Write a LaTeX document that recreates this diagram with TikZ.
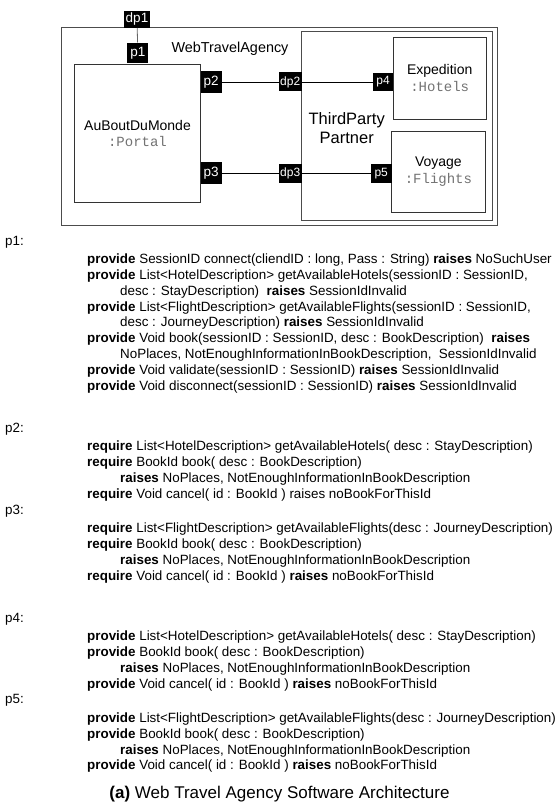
\documentclass[tikz,border=0pt]{standalone}
\usepackage{fontspec}
\setmainfont{Liberation Sans}
\setmonofont{Liberation Mono}
\usetikzlibrary{positioning}

\newcommand{\prov}{\textbf{provide}}
\newcommand{\reqr}{\textbf{require}}
\newcommand{\rais}{\textbf{raises}}
\newcommand{\itype}[1]{{\ttfamily\color{black!55}#1}}

\tikzset{
  comp/.style={draw=black!80,line width=0.9pt,fill=white,align=center,font=\fontsize{14}{16.5}\selectfont},
  port/.style={fill=black,text=white,inner sep=0pt,minimum width=21pt,minimum height=21pt,font=\fontsize{13.5}{13.5}\selectfont},
  dport/.style={port,minimum width=23pt,minimum height=19pt,font=\fontsize{12}{12}\selectfont},
  sig/.style={anchor=base west,inner sep=0pt,font=\fontsize{13.4}{15.9}\selectfont},
  wire/.style={draw=black,line width=0.8pt},
}

\begin{document}
\begin{tikzpicture}[x=1pt,y=-1pt]
\useasboundingbox (0,0) rectangle (559,810);
% composite and the partner sub-composite
\draw[draw=black!70,line width=0.9pt] (61.7,27.7) rectangle (497,225);
\node[font=\fontsize{14.4}{16}\selectfont] (wta) at (230,49) {WebTravelAgency};
\draw[draw=black!70,line width=0.7pt,double,double distance=2pt] (302.7,32.7) rectangle (491.3,219.3);
\node[font=\fontsize{16.5}{19}\selectfont,align=center] (tpp) at (346.7,128.3) {ThirdParty\\Partner};
% components
\node[comp,minimum width=126.4pt,minimum height=138.4pt] (portal) at (137.5,133.5) {AuBoutDuMonde\\\itype{:Portal}};
\node[comp,minimum width=92.7pt,minimum height=81.7pt] (hotels) at (439.7,78.2) {Expedition\\\itype{:Hotels}};
\node[comp,minimum width=93.3pt,minimum height=81pt] (flights) at (438.4,171.5) {Voyage\\\itype{:Flights}};
% ports
\node[port,minimum width=26pt,minimum height=16.7pt] (dp1) at (137,19.4) {dp1};
\node[port,minimum height=20.6pt] (p1) at (137.8,53) {p1};
\node[port,minimum height=22.6pt] (p2) at (211.2,82) {p2};
\node[port,minimum height=22.3pt] (p3) at (211.2,173.3) {p3};
\node[dport] (dp2) at (290.2,82) {dp2};
\node[dport] (dp3) at (290.2,173.3) {dp3};
\node[dport,minimum width=20.6pt,minimum height=18.4pt] (p4) at (383,82) {p4};
\node[dport,minimum width=21pt] (p5) at (381.2,173.3) {p5};
% connectors
\draw[draw=black!60,line width=0.8pt] (dp1) -- (p1);
\draw[wire] (p2) -- (dp2) (dp2) -- (p4);
\draw[wire] (p3) -- (dp3) (dp3) -- (p5);

% interface of p1
\node[sig] (p1h) at (5,245) {p1:};
\node[sig] (p1s1) at (87,263.3) {\prov{} SessionID connect(cliendID : long, Pass : String) \rais{} NoSuchUser};
\node[sig] (p1s2) at (87,279.2) {\prov{} List<HotelDescription> getAvailableHotels(sessionID : SessionID,};
\node[sig] (p1s3) at (120,295.1) {desc : StayDescription)\ \ \rais{} SessionIdInvalid};
\node[sig] (p1s4) at (87,311) {\prov{} List<FlightDescription> getAvailableFlights(sessionID : SessionID,};
\node[sig] (p1s5) at (120,326.9) {desc : JourneyDescription) \rais{} SessionIdInvalid};
\node[sig] (p1s6) at (87,342.8) {\prov{} Void book(sessionID : SessionID, desc : BookDescription)\ \ \rais};
\node[sig] (p1s7) at (120,358.7) {NoPlaces, NotEnoughInformationInBookDescription,\ \ SessionIdInvalid};
\node[sig] (p1s8) at (87,374.6) {\prov{} Void validate(sessionID : SessionID) \rais{} SessionIdInvalid};
\node[sig] (p1s9) at (87,390.5) {\prov{} Void disconnect(sessionID : SessionID) \rais{} SessionIdInvalid};

% interface of p2
\node[sig] (p2h) at (5,432.5) {p2:};
\node[sig] (p2s1) at (87,450.8) {\reqr{} List<HotelDescription> getAvailableHotels( desc : StayDescription)};
\node[sig] (p2s2) at (87,466.7) {\reqr{} BookId book( desc : BookDescription)};
\node[sig] (p2s3) at (120,482.6) {\rais{} NoPlaces, NotEnoughInformationInBookDescription};
\node[sig] (p2s4) at (87,498.5) {\reqr{} Void cancel( id : BookId ) raises noBookForThisId};

% interface of p3
\node[sig] (p3h) at (5,514.4) {p3:};
\node[sig] (p3s1) at (87,532.7) {\reqr{} List<FlightDescription> getAvailableFlights(desc : JourneyDescription)};
\node[sig] (p3s2) at (87,548.6) {\reqr{} BookId book( desc : BookDescription)};
\node[sig] (p3s3) at (120,564.5) {\rais{} NoPlaces, NotEnoughInformationInBookDescription};
\node[sig] (p3s4) at (87,580.4) {\reqr{} Void cancel( id : BookId ) \rais{} noBookForThisId};

% interface of p4
\node[sig] (p4h) at (5,622) {p4:};
\node[sig] (p4s1) at (87,640.3) {\prov{} List<HotelDescription> getAvailableHotels( desc : StayDescription)};
\node[sig] (p4s2) at (87,656.2) {\prov{} BookId book( desc : BookDescription)};
\node[sig] (p4s3) at (120,672.1) {\rais{} NoPlaces, NotEnoughInformationInBookDescription};
\node[sig] (p4s4) at (87,688) {\prov{} Void cancel( id : BookId ) \rais{} noBookForThisId};

% interface of p5
\node[sig] (p5h) at (5,703.9) {p5:};
\node[sig] (p5s1) at (87,722.2) {\prov{} List<FlightDescription> getAvailableFlights(desc : JourneyDescription)};
\node[sig] (p5s2) at (87,738.1) {\prov{} BookId book( desc : BookDescription)};
\node[sig] (p5s3) at (120,754) {\rais{} NoPlaces, NotEnoughInformationInBookDescription};
\node[sig] (p5s4) at (87,769.9) {\prov{} Void cancel( id : BookId ) \rais{} noBookForThisId};

\node[anchor=base,inner sep=0pt,font=\fontsize{17}{20}\selectfont] (cap) at (279.5,798.5) {\textbf{(a)} Web Travel Agency Software Architecture};
\end{tikzpicture}
\end{document}
